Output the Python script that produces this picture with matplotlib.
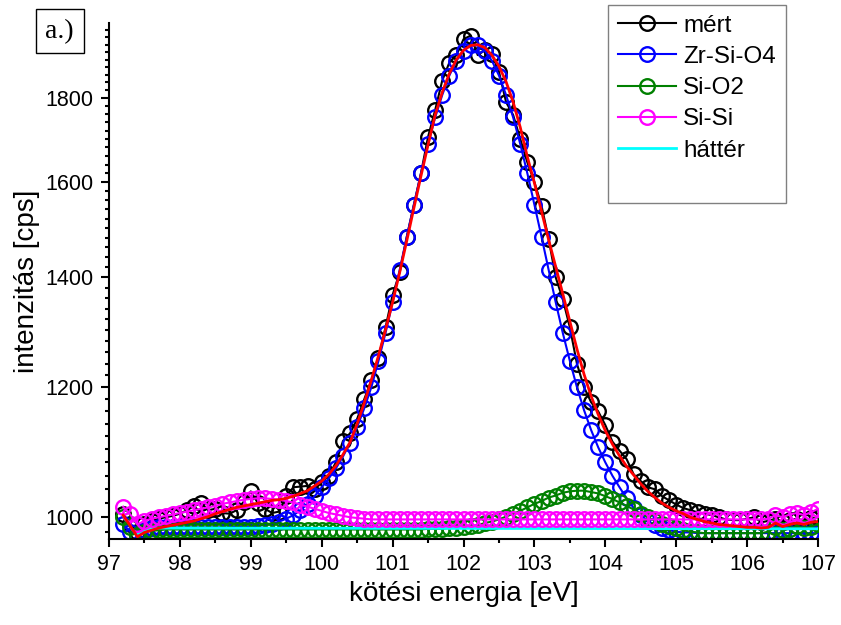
import numpy as np
import matplotlib.pyplot as plt
from matplotlib.lines import Line2D
from matplotlib.ticker import FixedLocator, NullFormatter, FuncFormatter, MultipleLocator

plt.rcParams['font.family'] = ['Liberation Sans', 'DejaVu Sans']

# kötési energia racs (eV)
energy = np.round(np.arange(97.2, 107.05, 0.1), 1)

# mert spektrum
meas = [1005, 990, 980, 990, 995, 998, 1000, 1002,
        1005, 1010, 1016, 1020, 1010, 1012, 1006, 1005, 1010, 1022,
        1037, 1020, 1012, 1006, 1008, 1030, 1043, 1044, 1045, 1040,
        1050, 1060, 1080, 1113, 1125, 1148, 1180, 1212, 1250, 1305,
        1366, 1410, 1482, 1550, 1620, 1705, 1770, 1845, 1892, 1912,
        1955, 1965, 1912, 1925, 1915, 1868, 1790, 1758, 1700, 1645,
        1600, 1548, 1478, 1400, 1358, 1305, 1240, 1200, 1175, 1160,
        1138, 1112, 1098, 1085, 1062, 1052, 1043, 1040, 1030, 1024,
        1018, 1013, 1010, 1007, 1005, 1003, 1000, 997, 996, 996,
        998, 1000, 993, 995, 998, 994, 996, 998, 995, 999,
        1000]

# Zr-Si-O4 komponens
zrsio4 = [990, 980, 975, 982, 985, 986, 986, 986,
          986, 986, 986, 986, 986, 986, 986, 986, 987, 987,
          987, 988, 989, 991, 994, 998, 1003, 1010, 1019, 1030,
          1043, 1056, 1071, 1089, 1110, 1135, 1165, 1200, 1245, 1295,
          1352, 1415, 1482, 1550, 1620, 1688, 1752, 1808, 1858, 1897,
          1924, 1938, 1938, 1924, 1897, 1858, 1808, 1752, 1688, 1620,
          1550, 1482, 1415, 1352, 1295, 1245, 1200, 1162, 1130, 1103,
          1080, 1060, 1043, 1027, 1013, 1003, 995, 989, 985, 982,
          980, 979, 979, 978, 978, 978, 978, 978, 978, 978,
          978, 978, 978, 978, 978, 978, 978, 978, 978, 978,
          978]

# Si-O2 komponens
sio2 = [1000, 986, 975, 979, 981, 982, 983, 983,
        983, 983, 983, 983, 983, 983, 983, 983, 983, 983,
        983, 983, 983, 983, 983, 983, 983, 983, 983, 983,
        983, 983, 983, 983, 983, 983, 983, 983, 983, 983,
        983, 983, 983, 983, 983, 984, 984, 984, 985, 985,
        986, 988, 989, 992, 994, 997, 1001, 1005, 1009, 1014,
        1019, 1023, 1028, 1031, 1035, 1037, 1038, 1038, 1036, 1034,
        1030, 1026, 1021, 1016, 1011, 1005, 1000, 995, 991, 988,
        985, 982, 980, 979, 978, 978, 978, 978, 978, 978,
        978, 978, 978, 980, 986, 982, 984, 988, 985, 987,
        990]

# Si-Si komponens
sisi = [1015, 1004, 990, 995, 998, 1000, 1002, 1004,
        1006, 1008, 1010, 1012, 1014, 1016, 1019, 1021, 1023, 1025,
        1026, 1027, 1027, 1026, 1025, 1023, 1021, 1018, 1015, 1012,
        1009, 1006, 1004, 1002, 1000, 999, 998, 997, 997, 997,
        997, 997, 997, 997, 997, 997, 997, 997, 997, 997,
        997, 997, 997, 997, 997, 997, 997, 997, 997, 997,
        997, 997, 997, 997, 997, 997, 997, 997, 997, 997,
        997, 997, 997, 997, 997, 997, 997, 997, 997, 997,
        997, 997, 997, 997, 997, 997, 997, 997, 997, 997,
        997, 997, 997, 998, 1003, 1000, 1004, 1006, 1003, 1007,
        1012]

# illesztett osszeg (piros)
fit = [1003, 988, 973, 979, 982, 985, 987, 989,
       991, 993, 995, 998, 1001, 1005, 1008, 1011, 1014, 1016,
       1018, 1020, 1022, 1024, 1025, 1027, 1030, 1034, 1038, 1045,
       1052, 1062, 1075, 1092, 1111, 1140, 1174, 1212, 1254, 1301,
       1352, 1410, 1474, 1543, 1614, 1686, 1758, 1815, 1863, 1900,
       1925, 1938, 1940, 1932, 1912, 1882, 1842, 1790, 1728, 1658,
       1598, 1536, 1476, 1421, 1368, 1316, 1266, 1222, 1185, 1155,
       1129, 1108, 1090, 1074, 1061, 1048, 1037, 1028, 1020, 1014,
       1009, 1005, 1000, 997, 994, 992, 990, 989, 988, 987,
       986, 986, 985, 986, 992, 987, 990, 992, 990, 993,
       994]

# hatter
bg_x = [97.4, 97.5, 97.6, 107.0]
bg_y = [977, 982, 985, 984]

fig = plt.figure(figsize=(8.41, 6.25), dpi=100)
ax = fig.add_axes([0.1296, 0.1376, 0.8431, 0.8256])

sym = dict(marker='o', mfc='none', ms=10.5, mew=1.7, lw=1.5)
h_meas, = ax.plot(energy, meas, color='black', label='mért', **sym)
h_zr, = ax.plot(energy, zrsio4, color='#0000ff', label='Zr-Si-O4', **sym)
h_sio2, = ax.plot(energy, sio2, color='#008000', label='Si-O2', **sym)
h_bg, = ax.plot(bg_x, bg_y, color='#00ffff', lw=2, label='háttér')
h_sisi, = ax.plot(energy, sisi, color='#ff00ff', label='Si-Si', **sym)
ax.plot(energy, fit, color='#ff0000', lw=2)

ax.set_xlim(97, 107)
ax.set_yscale('log')
ax.set_ylim(970, 2000)
ax.xaxis.set_major_locator(FixedLocator(range(97, 108)))
ax.xaxis.set_minor_locator(MultipleLocator(0.5))
ax.yaxis.set_major_locator(FixedLocator([1000, 1200, 1400, 1600, 1800]))
ax.yaxis.set_major_formatter(FuncFormatter(lambda v, p: '%d' % v))
ax.yaxis.set_minor_locator(FixedLocator([v for v in range(980, 2001, 20) if v % 200 != 0]))
ax.yaxis.set_minor_formatter(NullFormatter())

for s in ['top', 'right']:
    ax.spines[s].set_visible(False)
for s in ['left', 'bottom']:
    ax.spines[s].set_linewidth(1.5)
ax.tick_params(which='major', direction='out', length=6, width=1.5, labelsize=15.5, pad=5)
ax.tick_params(which='minor', direction='out', length=3, width=1.5)

ax.set_xlabel('kötési energia [eV]', fontsize=20)
ax.set_ylabel('intenzitás [cps]', fontsize=20)

blank = Line2D([], [], color='none', label=' ')
leg = fig.legend(handles=[h_meas, h_zr, h_sio2, h_sisi, h_bg, blank],
                 loc='upper left', bbox_to_anchor=(0.723, 0.992), borderaxespad=0,
                 fontsize=17.5, fancybox=False, framealpha=1, edgecolor='#808080',
                 handlelength=2.4, handletextpad=0.3, labelspacing=0.38, borderpad=0.4)
leg.get_frame().set_linewidth(1.0)

fig.text(0.0708, 0.950, 'a.)', family='Liberation Serif', fontsize=20, ha='center', va='center',
         bbox=dict(boxstyle='square,pad=0.35', fc='white', ec='black', lw=1))

fig.savefig('out.png', dpi=100)
